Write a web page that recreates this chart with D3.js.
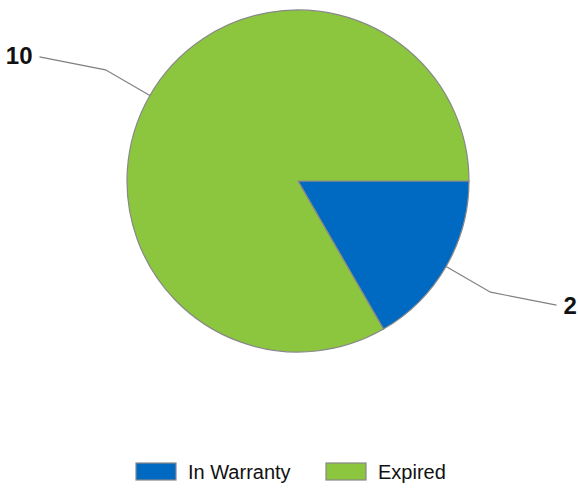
<!DOCTYPE html>
<html lang="en">
<head>
    <meta charset="UTF-8">
    <title>Warranty</title>
    <script src="https://d3js.org/d3.v7.min.js"></script>
</head>
<style>
    html, body {
        margin: 0;
        padding: 0;
        background: #fff;
    }
    text {
        font-family: "Liberation Sans", Arial, sans-serif;
    }
</style>
<body>
<svg id="chart" width="578" height="488"></svg>

<script>
    // data
    var categories = ['In Warranty', 'Expired']
    var values = [2, 10]
    var colors = ['#0069c2', '#8cc63f']

    var width = 578, height = 488
    var cx = 298, cy = 181, radius = 171

    var svg = d3.select('#chart')
    var g = svg.append('g').attr('transform', 'translate(' + cx + ',' + cy + ')')

    var pie = d3.pie()
        .sort(null)
        .startAngle(Math.PI / 2)
        .endAngle(Math.PI / 2 + 2 * Math.PI)
    var arcs = pie(values)

    var arc = d3.arc().innerRadius(0).outerRadius(radius)

    g.selectAll('path.slice')
        .data(arcs)
        .enter().append('path')
        .attr('class', 'slice')
        .attr('d', arc)
        .attr('fill', function (d, i) { return colors[i] })
        .attr('stroke', '#888')
        .attr('stroke-width', 1.2)

    // leader lines + labels
    function polar(a, r) {
        return [r * Math.sin(a), -r * Math.cos(a)]
    }
    arcs.forEach(function (d) {
        var mid = (d.startAngle + d.endAngle) / 2
        var p0 = polar(mid, radius)
        var p1 = polar(mid, radius * 1.3)
        var sx = p1[0] < 0 ? -1 : 1
        var sy = p1[1] < 0 ? -1 : 1
        var p2 = [p1[0] + sx * 66, p1[1] + sy * 13]
        g.append('polyline')
            .attr('points', [p0, p1, p2].map(function (p) { return p.join(',') }).join(' '))
            .attr('fill', 'none')
            .attr('stroke', '#808080')
            .attr('stroke-width', 1.2)
        g.append('text')
            .attr('x', p2[0] + sx * 7)
            .attr('y', p2[1] - (sy < 0 ? 2 : 0))
            .attr('dy', '0.36em')
            .attr('text-anchor', sx < 0 ? 'end' : 'start')
            .attr('font-size', 24)
            .attr('font-weight', 'bold')
            .attr('fill', '#111')
            .text(d.data)
    })

    // legend
    var legend = svg.append('g').attr('transform', 'translate(0,463)')
    var legendX = [136, 326]
    categories.forEach(function (c, i) {
        var item = legend.append('g').attr('transform', 'translate(' + legendX[i] + ',0)')
        item.append('rect')
            .attr('width', 40)
            .attr('height', 17)
            .attr('fill', colors[i])
            .attr('stroke', '#888')
            .attr('stroke-width', 1.2)
        item.append('text')
            .attr('x', 52)
            .attr('y', 9)
            .attr('dy', '0.36em')
            .attr('font-size', 20)
            .attr('fill', '#111')
            .text(c)
    })
</script>
</body>
</html>
